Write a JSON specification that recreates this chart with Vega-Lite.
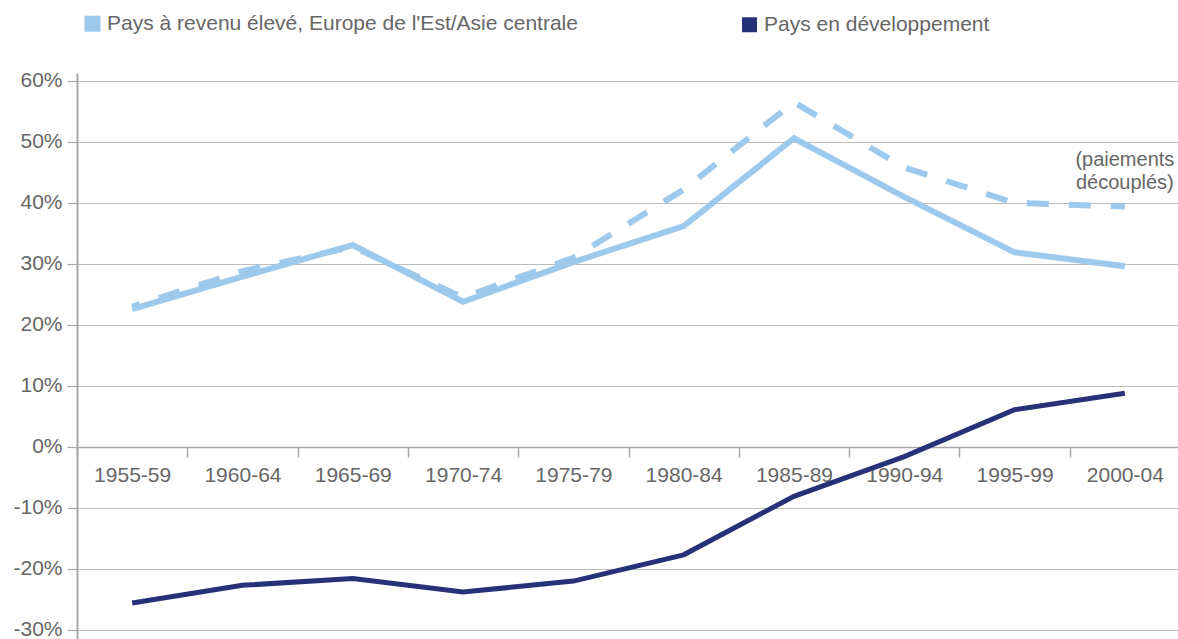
{
  "$schema": "https://vega.github.io/schema/vega-lite/v6.json",
  "width": 1103,
  "height": 566,
  "autosize": {"type": "none"},
  "padding": {"left": 77, "top": 73, "right": 0, "bottom": 0},
  "background": "white",
  "config": {"view": {"stroke": null}, "font": "Liberation Sans"},
  "data": {"values": [
    {"period": "1955-59", "group": "Pays à revenu élevé, Europe de l'Est/Asie centrale", "variant": "total", "value": 22.6},
    {"period": "1960-64", "group": "Pays à revenu élevé, Europe de l'Est/Asie centrale", "variant": "total", "value": 27.9},
    {"period": "1965-69", "group": "Pays à revenu élevé, Europe de l'Est/Asie centrale", "variant": "total", "value": 33.1},
    {"period": "1970-74", "group": "Pays à revenu élevé, Europe de l'Est/Asie centrale", "variant": "total", "value": 23.8},
    {"period": "1975-79", "group": "Pays à revenu élevé, Europe de l'Est/Asie centrale", "variant": "total", "value": 30.3},
    {"period": "1980-84", "group": "Pays à revenu élevé, Europe de l'Est/Asie centrale", "variant": "total", "value": 36.2},
    {"period": "1985-89", "group": "Pays à revenu élevé, Europe de l'Est/Asie centrale", "variant": "total", "value": 50.6},
    {"period": "1990-94", "group": "Pays à revenu élevé, Europe de l'Est/Asie centrale", "variant": "total", "value": 41.0},
    {"period": "1995-99", "group": "Pays à revenu élevé, Europe de l'Est/Asie centrale", "variant": "total", "value": 31.9},
    {"period": "2000-04", "group": "Pays à revenu élevé, Europe de l'Est/Asie centrale", "variant": "total", "value": 29.6},
    {"period": "1955-59", "group": "Pays à revenu élevé, Europe de l'Est/Asie centrale", "variant": "decouples", "value": 23.0},
    {"period": "1960-64", "group": "Pays à revenu élevé, Europe de l'Est/Asie centrale", "variant": "decouples", "value": 28.8},
    {"period": "1965-69", "group": "Pays à revenu élevé, Europe de l'Est/Asie centrale", "variant": "decouples", "value": 32.8},
    {"period": "1970-74", "group": "Pays à revenu élevé, Europe de l'Est/Asie centrale", "variant": "decouples", "value": 24.5},
    {"period": "1975-79", "group": "Pays à revenu élevé, Europe de l'Est/Asie centrale", "variant": "decouples", "value": 31.0},
    {"period": "1980-84", "group": "Pays à revenu élevé, Europe de l'Est/Asie centrale", "variant": "decouples", "value": 42.2},
    {"period": "1985-89", "group": "Pays à revenu élevé, Europe de l'Est/Asie centrale", "variant": "decouples", "value": 56.5},
    {"period": "1990-94", "group": "Pays à revenu élevé, Europe de l'Est/Asie centrale", "variant": "decouples", "value": 45.8},
    {"period": "1995-99", "group": "Pays à revenu élevé, Europe de l'Est/Asie centrale", "variant": "decouples", "value": 40.0},
    {"period": "2000-04", "group": "Pays à revenu élevé, Europe de l'Est/Asie centrale", "variant": "decouples", "value": 39.4},
    {"period": "1955-59", "group": "Pays en développement", "variant": "total", "value": -25.6},
    {"period": "1960-64", "group": "Pays en développement", "variant": "total", "value": -22.7},
    {"period": "1965-69", "group": "Pays en développement", "variant": "total", "value": -21.6},
    {"period": "1970-74", "group": "Pays en développement", "variant": "total", "value": -23.8},
    {"period": "1975-79", "group": "Pays en développement", "variant": "total", "value": -22.0},
    {"period": "1980-84", "group": "Pays en développement", "variant": "total", "value": -17.7},
    {"period": "1985-89", "group": "Pays en développement", "variant": "total", "value": -8.1},
    {"period": "1990-94", "group": "Pays en développement", "variant": "total", "value": -1.6},
    {"period": "1995-99", "group": "Pays en développement", "variant": "total", "value": 6.1},
    {"period": "2000-04", "group": "Pays en développement", "variant": "total", "value": 8.8}
  ]},
  "encoding": {
    "x": {
      "field": "period",
      "type": "ordinal",
      "sort": null,
      "scale": {"type": "band", "paddingInner": 0, "paddingOuter": 0},
      "axis": {
        "title": null,
        "orient": "bottom",
        "offset": -192,
        "tickBand": "extent",
        "grid": false,
        "domainColor": "#a8a8a8",
        "domainWidth": 1.5,
        "tickColor": "#a8a8a8",
        "tickWidth": 1.5,
        "tickSize": 10,
        "labelAngle": 0,
        "labelFont": "Liberation Sans",
        "labelFontSize": 21,
        "labelColor": "#666666",
        "labelPadding": 7
      }
    },
    "y": {
      "field": "value",
      "type": "quantitative",
      "scale": {"domain": [-31.5, 61.3], "nice": false, "zero": false},
      "axis": {
        "title": null,
        "values": [-30, -20, -10, 0, 10, 20, 30, 40, 50, 60],
        "labelExpr": "datum.value + '%'",
        "grid": true,
        "gridColor": "#bdbdbd",
        "gridWidth": 1.2,
        "domainColor": "#a8a8a8",
        "domainWidth": 2,
        "tickColor": "#a8a8a8",
        "tickWidth": 1.2,
        "tickSize": 10,
        "labelFont": "Liberation Sans",
        "labelFontSize": 21,
        "labelColor": "#666666",
        "labelPadding": 5
      }
    }
  },
  "layer": [
    {
      "transform": [{"filter": "datum.variant === 'total'"}],
      "mark": {"type": "line", "strokeCap": "butt", "strokeJoin": "miter"},
      "encoding": {
        "color": {
          "field": "group",
          "type": "nominal",
          "scale": {
            "domain": ["Pays à revenu élevé, Europe de l'Est/Asie centrale", "Pays en développement"],
            "range": ["#9dc9ec", "#263177"]
          },
          "legend": {
            "orient": "none",
            "legendX": 5,
            "legendY": -60,
            "direction": "horizontal",
            "columns": 2,
            "columnPadding": 156,
            "title": null,
            "symbolType": "square",
            "symbolSize": 100,
            "symbolStrokeWidth": 0,
            "labelFont": "Liberation Sans",
            "labelFontSize": 21,
            "labelColor": "#666666",
            "labelOffset": 4,
            "labelLimit": 1000,
            "padding": 0,
            "encode": {
              "symbols": {"update": {"fill": {"scale": "color", "field": "value"}, "strokeWidth": {"value": 0}, "opacity": {"value": 1}}}
            }
          }
        },
        "strokeWidth": {
          "field": "group",
          "type": "nominal",
          "scale": {
            "domain": ["Pays à revenu élevé, Europe de l'Est/Asie centrale", "Pays en développement"],
            "range": [6, 5]
          },
          "legend": null
        }
      }
    },
    {
      "transform": [{"filter": "datum.variant === 'decouples'"}],
      "mark": {"type": "line", "strokeWidth": 6, "strokeDash": [22, 20], "strokeDashOffset": 14, "strokeCap": "butt"},
      "encoding": {
        "color": {"field": "group", "type": "nominal"}
      }
    },
    {
      "data": {"values": [{"period": "2000-04", "value": 47.0}]},
      "mark": {
        "type": "text",
        "text": ["(paiements", "découplés)"],
        "align": "center",
        "baseline": "middle",
        "lineHeight": 23,
        "font": "Liberation Sans",
        "fontSize": 20,
        "color": "#666666"
      }
    }
  ]
}
